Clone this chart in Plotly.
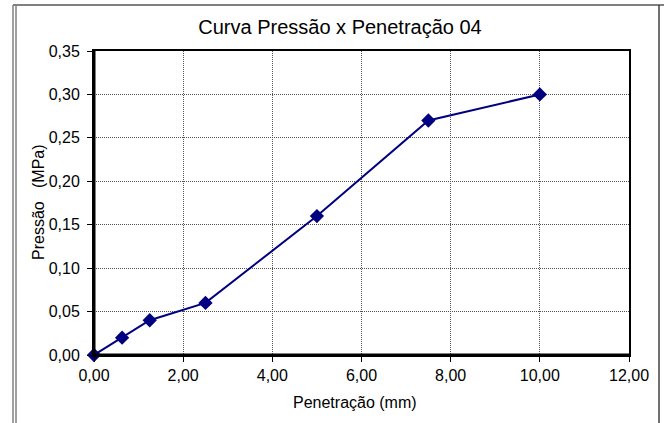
import plotly.graph_objects as go

penetracao = [0.0, 0.63, 1.25, 2.5, 5.0, 7.5, 10.0]
pressao = [0.0, 0.02, 0.04, 0.06, 0.16, 0.27, 0.30]

W, H = 664, 423
L, R, T, B = 94, 629, 51, 355

def px(x):
    return (x - L) / (R - L)

def py(y):
    return (B - y) / (B - T)

fig = go.Figure()
fig.add_trace(go.Scatter(
    x=penetracao, y=pressao, mode="lines+markers",
    line=dict(color="#000080", width=2),
    marker=dict(symbol="diamond", size=11, color="#000080"),
    cliponaxis=False, showlegend=False))

font = "Liberation Sans, Arial, sans-serif"
grid = dict(showgrid=True, gridcolor="#505050", griddash="1px,1px", gridwidth=1)
fig.update_layout(
    width=W, height=H, autosize=False,
    margin=dict(l=L, r=W - R, t=T, b=H - B),
    paper_bgcolor="white", plot_bgcolor="white",
    separators=",.",
    font=dict(family=font, size=16, color="black"),
    title=dict(text="Curva Pressão x Penetração 04", x=px(340), xref="paper", xanchor="center",
               y=1 - 27 / H, yanchor="middle", font=dict(size=20)),
    xaxis=dict(range=[0, 12], dtick=2, tick0=0, tickformat=".2f", **grid,
               showline=True, linecolor="black", linewidth=2, mirror=True,
               ticks="outside", ticklen=5, tickcolor="black", zeroline=False),
    yaxis=dict(range=[0, 0.35], dtick=0.05, tick0=0, tickformat=".2f", **grid,
               showline=True, linecolor="black", linewidth=2, mirror=True,
               ticks="outside", ticklen=5, tickcolor="black", zeroline=False,
               ticklabelstandoff=4),
    annotations=[
        dict(text="Penetração (mm)", xref="paper", yref="paper", x=px(355), y=py(402),
             xanchor="center", yanchor="middle", showarrow=False, font=dict(size=16)),
        dict(text="Pressão&nbsp;&nbsp;&nbsp;(MPa)", xref="paper", yref="paper", x=px(38), y=py(202),
             xanchor="center", yanchor="middle", showarrow=False, textangle=-90, font=dict(size=16)),
    ],
)

shapes = [
    dict(type="line", xref="paper", yref="paper", x0=px(13), x1=px(13), y0=py(5), y1=py(H), line=dict(color="#808080", width=1.5)),
    dict(type="line", xref="paper", yref="paper", x0=px(16), x1=px(16), y0=py(5), y1=py(H), line=dict(color="#808080", width=1.5)),
    dict(type="line", xref="paper", yref="paper", x0=px(13), x1=px(W), y0=py(5), y1=py(5), line=dict(color="#808080", width=2)),
    dict(type="line", xref="paper", yref="paper", x0=px(659), x1=px(659), y0=py(5), y1=py(H), line=dict(color="#404040", width=1.5)),
    dict(type="line", xref="paper", yref="paper", x0=0, x1=0, y0=0, y1=1, line=dict(color="black", width=3)),
    dict(type="line", xref="paper", yref="paper", x0=0, x1=1, y0=0, y1=0, line=dict(color="black", width=3)),
]
fig.update_layout(shapes=shapes)

fig.write_html("out.html", config={"displayModeBar": False},
               post_script="document.body.style.margin='0';document.body.style.overflow='hidden';")
